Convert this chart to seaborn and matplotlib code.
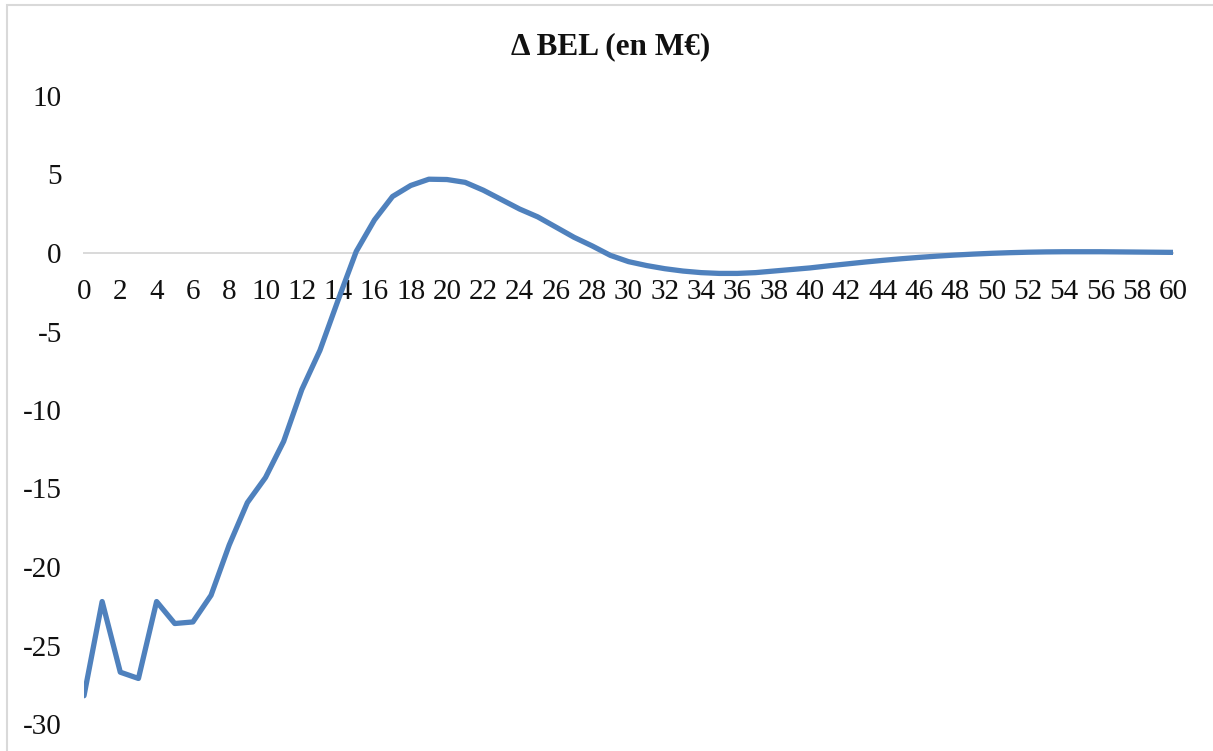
import numpy as np
import pandas as pd
import matplotlib
matplotlib.use("Agg")
import matplotlib.pyplot as plt
from matplotlib.patches import Rectangle
import seaborn as sns

# Projection years and change in best-estimate liability (M€)
years = list(range(0, 61))
delta_bel = [
    -28.2, -22.2, -26.7, -27.1, -22.2, -23.6, -23.5, -21.8, -18.6, -15.9,
    -14.3, -12.0, -8.7, -6.2, -3.0, 0.1, 2.1, 3.6, 4.3, 4.7,
    4.68, 4.5, 4.0, 3.4, 2.8, 2.3, 1.65, 1.0, 0.45, -0.15,
    -0.55, -0.8, -1.0, -1.15, -1.25, -1.3, -1.3, -1.25, -1.15, -1.05,
    -0.95, -0.82, -0.7, -0.58, -0.47, -0.37, -0.28, -0.2, -0.13, -0.07,
    -0.02, 0.02, 0.05, 0.07, 0.08, 0.08, 0.08, 0.07, 0.06, 0.05,
    0.04,
]
x_ticks = list(range(0, 61, 2))
y_ticks = [-30, -25, -20, -15, -10, -5, 0, 5, 10]
title = "Δ BEL (en M€)"

df = pd.DataFrame({"annee": years, "delta_bel": delta_bel})

sns.set_theme(style="white")
plt.rcParams["font.family"] = ["Liberation Serif", "DejaVu Serif"]

W, H = 1213, 751
fig = plt.figure(figsize=(W / 100, H / 100), dpi=100)
ax = fig.add_axes([84 / W, (H - 724) / H, 1089 / W, 628 / H])

sns.lineplot(data=df, x="annee", y="delta_bel", ax=ax, color="#4F81BD",
             linewidth=3.8, solid_capstyle="round", solid_joinstyle="round",
             zorder=3)

ax.set_xlim(0, 60)
ax.set_ylim(-30, 10)
ax.set_xticks(x_ticks)
ax.set_yticks(y_ticks)
ax.set_xticklabels([str(t) for t in x_ticks])
ax.set_yticklabels([str(t) for t in y_ticks])
ax.set_xlabel("")
ax.set_ylabel("")

for side in ["top", "right", "left"]:
    ax.spines[side].set_visible(False)
ax.spines["bottom"].set_position(("data", 0))
ax.spines["bottom"].set_color("#D9D9D9")
ax.spines["bottom"].set_linewidth(1.4)
ax.spines["bottom"].set_zorder(1)

ax.tick_params(axis="x", length=0, pad=19, labelsize=21, labelcolor="#111111")
ax.tick_params(axis="y", length=0, pad=16, labelsize=21, labelcolor="#111111")
ax.grid(False)

fig.text(611 / W, (H - 47) / H, title, ha="center", va="center",
         fontsize=22.5, fontweight="bold", color="#111111")

# chart-area frame
fig.patches.append(Rectangle((7 / W, -0.1), 1.2, (H - 5) / H + 0.1,
                             transform=fig.transFigure, fill=False,
                             edgecolor="#D9D9D9", linewidth=1.5, zorder=0))

fig.savefig("out.png", dpi=100)
